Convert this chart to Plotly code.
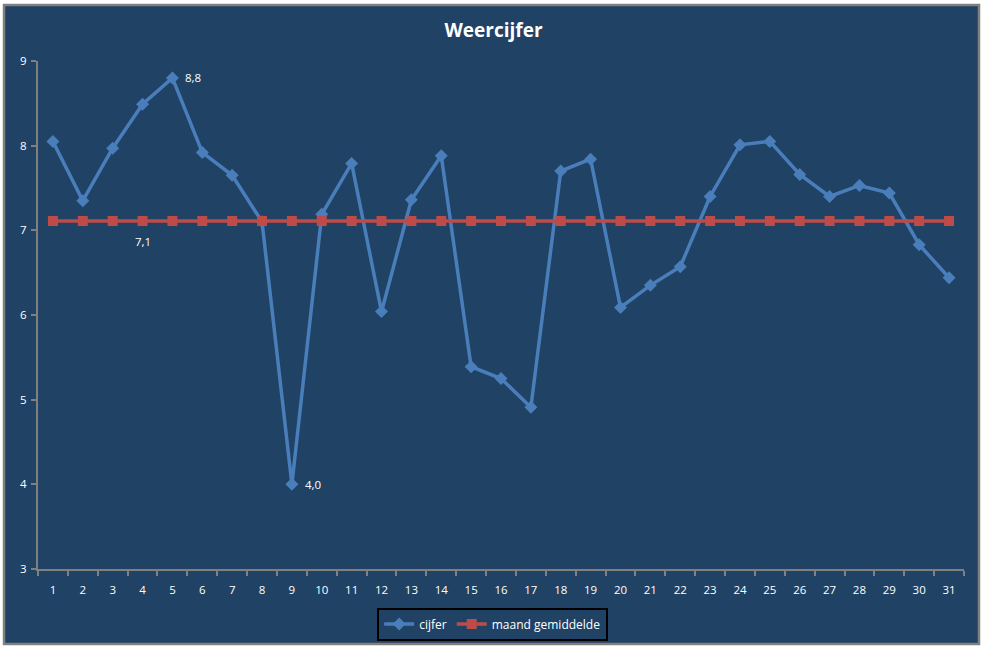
import plotly.graph_objects as go

# dagen van de maand
dagen = [str(d) for d in range(1, 32)]

# weercijfer per dag
cijfer = [8.05, 7.35, 7.97, 8.49, 8.80, 7.92, 7.65, 7.10, 4.00, 7.19,
          7.79, 6.04, 7.36, 7.88, 5.39, 5.25, 4.91, 7.70, 7.84, 6.09,
          6.35, 6.57, 7.40, 8.01, 8.05, 7.66, 7.40, 7.53, 7.44, 6.83,
          6.44]

# maandgemiddelde (constant)
gemiddelde = [7.11, 7.11, 7.11, 7.11, 7.11, 7.11, 7.11, 7.11, 7.11, 7.11,
              7.11, 7.11, 7.11, 7.11, 7.11, 7.11, 7.11, 7.11, 7.11, 7.11,
              7.11, 7.11, 7.11, 7.11, 7.11, 7.11, 7.11, 7.11, 7.11, 7.11,
              7.11]

# welke punten een label krijgen (index)
label_cijfer = [4, 8]
label_gem = [3]

BG = "#1F4265"
BLUE = "#4A7EBB"
RED = "#BE4B48"
GREY = "#808080"
FONT = "Open Sans"


def fmt(v):
    return f"{v:.1f}".replace(".", ",")


fig = go.Figure()
fig.add_trace(go.Scatter(
    x=dagen, y=cijfer, name="cijfer", mode="lines+markers",
    line=dict(color=BLUE, width=3.5),
    marker=dict(symbol="diamond", size=10, color=BLUE),
))
fig.add_trace(go.Scatter(
    x=dagen, y=gemiddelde, name="maand gemiddelde", mode="lines+markers",
    line=dict(color=RED, width=3.5),
    marker=dict(symbol="square", size=10, color=RED),
))

# datalabels (x = categorie-index)
for i in label_cijfer:
    fig.add_annotation(x=i, y=cijfer[i], text=fmt(cijfer[i]), showarrow=False,
                       xshift=21, font=dict(color="white", size=11.5, family=FONT))
for i in label_gem:
    fig.add_annotation(x=i, y=gemiddelde[i], text=fmt(gemiddelde[i]), showarrow=False,
                       yshift=-20, font=dict(color="white", size=11.5, family=FONT))

# kader rond de hele grafiek
fig.add_shape(type="rect", xref="paper", yref="paper",
              x0=-0.0367, x1=1.0162, y0=-0.1476, y1=1.1102,
              fillcolor=BG, line=dict(color=GREY, width=2.5), layer="below")

fig.update_layout(
    width=987, height=648,
    title=dict(text="<b>Weercijfer</b>", x=0.5, xanchor="center",
               yref="container", y=0.953, yanchor="middle",
               font=dict(size=19, color="white", family=FONT)),
    paper_bgcolor="white",
    plot_bgcolor="rgba(0,0,0,0)",
    font=dict(family=FONT, size=11, color="white"),
    margin=dict(l=38, r=23, t=61, b=79, autoexpand=False),
    showlegend=True,
    legend=dict(orientation="h", x=0.491, xanchor="center",
                yref="container", y=0.037, yanchor="middle",
                bgcolor=BG, bordercolor="black", borderwidth=2,
                font=dict(size=12, color="white", family=FONT),
                itemwidth=30, tracegroupgap=0),
)
fig.update_xaxes(type="category", range=[-0.5, 30.5], tickson="boundaries",
                 automargin=False,
                 showgrid=False, showline=True, linecolor=GREY, linewidth=2,
                 ticks="outside", ticklen=5, tickcolor=GREY, tickwidth=2,
                 ticklabelstandoff=9,
                 tickfont=dict(size=11.5, color="white"), zeroline=False)
fig.update_yaxes(range=[3, 9], dtick=1, showgrid=False, automargin=False,
                 showline=True, linecolor=GREY, linewidth=2,
                 ticks="outside", ticklen=5, tickcolor=GREY, tickwidth=2,
                 ticklabelstandoff=2,
                 tickfont=dict(size=11.5, color="white"), zeroline=False)

# body-marge van de pagina weghalen zodat de grafiek op 0,0 begint
fig.write_html("out.html", config={"displayModeBar": False},
               post_script="document.body.style.margin='0';")
